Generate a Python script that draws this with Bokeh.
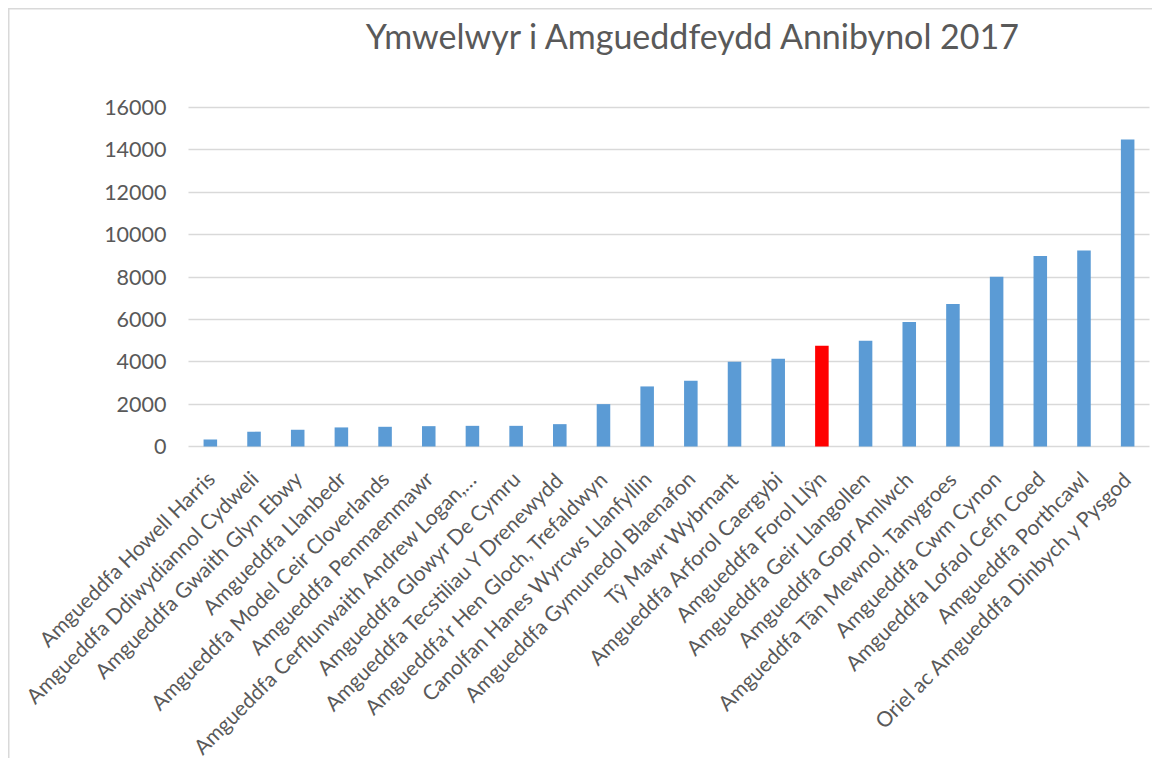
import math
from bokeh.plotting import figure
from bokeh.models import Range1d, FixedTicker, Label, Grid
from bokeh.embed import file_html
from bokeh.resources import INLINE

title_text = "Ymwelwyr i Amgueddfeydd Annibynol 2017"

museums = [
    "Amgueddfa Howell Harris",
    "Amgueddfa Ddiwydiannol Cydweli",
    "Amgueddfa Gwaith Glyn Ebwy",
    "Amgueddfa Llanbedr",
    "Amgueddfa Model Ceir Cloverlands",
    "Amgueddfa Penmaenmawr",
    "Amgueddfa Cerflunwaith Andrew Logan,…",
    "Amgueddfa Glowyr De Cymru",
    "Amgueddfa Tecstiliau Y Drenewydd",
    "Amgueddfa’r Hen Gloch, Trefaldwyn",
    "Canolfan Hanes Wyrcws Llanfyllin",
    "Amgueddfa Gymunedol Blaenafon",
    "Tŷ Mawr Wybrnant",
    "Amgueddfa Arforol Caergybi",
    "Amgueddfa Forol Llŷn",
    "Amgueddfa Geir Llangollen",
    "Amgueddfa Gopr Amlwch",
    "Amgueddfa Tân Mewnol, Tanygroes",
    "Amgueddfa Cwm Cynon",
    "Amgueddfa Lofaol Cefn Coed",
    "Amgueddfa Porthcawl",
    "Oriel ac Amgueddfa Dinbych y Pysgod",
]

visitors = [330, 700, 790, 900, 930, 960, 975, 975, 1055,
            2000, 2835, 3100, 4000, 4140, 4760, 4990, 5875,
            6725, 8015, 8990, 9245, 14490]

highlighted = "Amgueddfa Forol Llŷn"

y_ticks = [0, 2000, 4000, 6000, 8000, 10000, 12000, 14000, 16000]

BLUE = "#5B9BD5"
RED = "#FF0000"
TEXT = "#595959"
GRID = "#D9D9D9"
FONT = "Lato"

positions = list(range(len(museums)))
bar_colors = [RED if m == highlighted else BLUE for m in museums]

# layout geometry in pixels: plot area x 188..1149, y 107 (16000) .. 446 (0)
W, H = 1152, 758
AREA_L, AREA_R, AREA_T, AREA_B = 188, 1149, 107, 446
PX_X = (AREA_R - AREA_L) / len(museums)
PX_Y = (AREA_B - AREA_T) / 16000.0
x_lo = -0.5 - AREA_L / PX_X
x_hi = len(museums) - 0.5 + (W - AREA_R) / PX_X
y_hi = 16000 + AREA_T / PX_Y
y_lo = -(H - AREA_B) / PX_Y

p = figure(
    width=W, height=H,
    x_range=Range1d(x_lo, x_hi),
    y_range=Range1d(y_lo, y_hi),
    output_backend="svg", toolbar_location=None,
    min_border_left=0, min_border_right=0,
    min_border_top=0, min_border_bottom=0,
)

p.vbar(x=positions, top=visitors, width=0.31, fill_color=bar_colors, line_color=None)

# chart title
p.add_layout(Label(
    x=11.07, y=19400, text=title_text,
    text_font=FONT, text_font_size="34px", text_color=TEXT,
    text_align="center", text_baseline="alphabetic",
))

p.outline_line_color = None
p.background_fill_color = None
p.border_fill_color = None

# horizontal gridlines (0 line doubles as the category axis line)
p.xgrid.grid_line_color = None
p.ygrid.grid_line_color = None
if "cross_bounds" in Grid.properties():
    p.ygrid.ticker = FixedTicker(ticks=y_ticks)
    p.ygrid.cross_bounds = (-0.5, len(museums) - 0.5)
    p.ygrid.grid_line_color = GRID
    p.ygrid.grid_line_width = 1.5
else:
    p.segment(x0=[-0.5] * len(y_ticks), x1=[len(museums) - 0.5] * len(y_ticks),
              y0=y_ticks, y1=y_ticks, line_color=GRID, line_width=1.5, level="underlay")

p.yaxis.fixed_location = -0.5
p.yaxis.ticker = FixedTicker(ticks=y_ticks)
p.yaxis.axis_line_color = None
p.yaxis.major_tick_line_color = None
p.yaxis.minor_tick_line_color = None
p.yaxis.major_tick_in = 0
p.yaxis.major_tick_out = 0
p.yaxis.major_label_standoff = 22
p.yaxis.major_label_text_font = FONT
p.yaxis.major_label_text_font_size = "21.5px"
p.yaxis.major_label_text_color = TEXT

p.xaxis.fixed_location = 0
p.xaxis.ticker = FixedTicker(ticks=positions)
p.xaxis.major_label_overrides = {i: m for i, m in zip(positions, museums)}
p.xaxis.axis_line_color = None
p.xaxis.major_tick_line_color = None
p.xaxis.minor_tick_line_color = None
p.xaxis.major_tick_in = 0
p.xaxis.major_tick_out = 0
p.xaxis.major_label_standoff = 28
p.xaxis.major_label_orientation = math.pi / 4
p.xaxis.major_label_text_font = FONT
p.xaxis.major_label_text_font_size = "21px"
p.xaxis.major_label_text_color = TEXT

p.styles = {
    "background": "linear-gradient(#D9D9D9, #D9D9D9) 8px 8px / 1.5px 100% no-repeat, "
                  "linear-gradient(#D9D9D9, #D9D9D9) 8px 8px / 100% 1.5px no-repeat, white",
}

open("out.html", "w").write(file_html(p, INLINE))
